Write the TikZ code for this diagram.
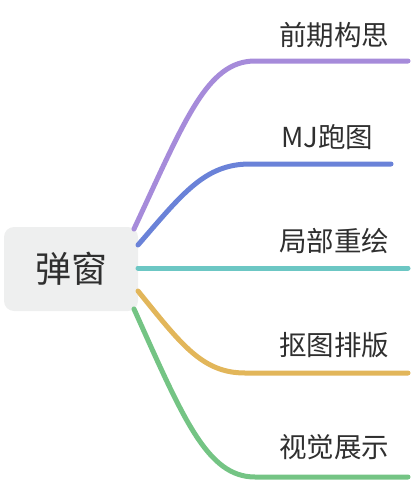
\documentclass[tikz,border=0pt]{standalone}
\usepackage{fontspec}
\newfontfamily\cjk{Noto Sans CJK SC}
\definecolor{rootfill}{HTML}{EEEFEF}
\definecolor{txt}{HTML}{2F2F2F}
\definecolor{cpurple}{HTML}{A68BDA}
\definecolor{cblue}{HTML}{6A82D8}
\definecolor{cteal}{HTML}{6CC7C4}
\definecolor{cyellow}{HTML}{E2B65A}
\definecolor{cgreen}{HTML}{74C484}
\begin{document}
\begin{tikzpicture}[x=1pt,y=-1pt,
  branch/.style={line width=5pt, line cap=round},
  label/.style={anchor=west, inner sep=0pt, text=txt, font=\cjk\fontsize{27.5}{27.5}\selectfont}]
\useasboundingbox (0,0) rectangle (412,482);
\node[fill=rootfill, rounded corners=10pt, minimum width=134pt, minimum height=84pt, inner sep=0pt, text=txt, font=\cjk\fontsize{36}{36}\selectfont] (root) at (71,269) {弹窗};
% start points on root
\coordinate (s1) at (134,229);
\coordinate (s2) at (138,245);
\coordinate (s3) at (138,268);
\coordinate (s4) at (138,291);
\coordinate (s5) at (134,309);
% ends
\coordinate (e1) at (408,61);
\coordinate (e2) at (391,164);
\coordinate (e3) at (408,268);
\coordinate (e4) at (408,373);
\coordinate (e5) at (408,477);
\coordinate (h1) at (255,61);
\coordinate (h2) at (250,164);
\coordinate (h4) at (245,373);
\coordinate (h5) at (255,477);
\draw[branch, cpurple] (s1) .. controls (185,120) and (207,61) .. (h1) -- (e1);
\draw[branch, cblue] (s2) .. controls (183,193) and (205,164) .. (h2) -- (e2);
\draw[branch, cteal] (s3) -- (e3);
\draw[branch, cyellow] (s4) .. controls (181,344) and (202,373) .. (h4) -- (e4);
\draw[branch, cgreen] (s5) .. controls (183,418) and (207,477) .. (h5) -- (e5);
\node[label] (t1) at (279,35) {前期构思};
\node[label] (t2) at (281,137) {MJ跑图};
\node[label] (t3) at (279,241) {局部重绘};
\node[label] (t4) at (279,345) {抠图排版};
\node[label] (t5) at (279,447) {视觉展示};
\end{tikzpicture}
\end{document}
